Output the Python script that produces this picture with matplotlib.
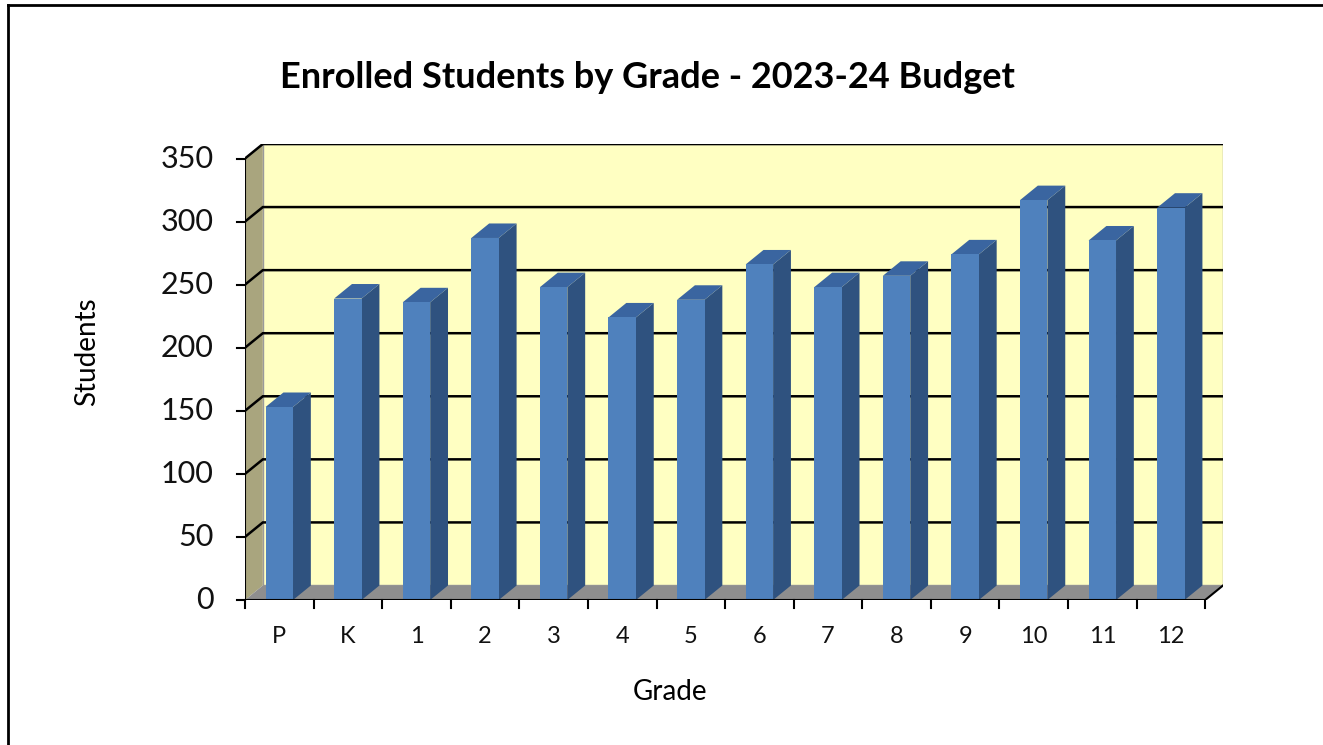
import numpy as np
import matplotlib.pyplot as plt
from matplotlib.patches import Polygon

plt.rcParams['font.family'] = ['Lato', 'DejaVu Sans']

# du lieu doc tu bieu do
grades = ["P", "K", "1", "2", "3", "4", "5", "6", "7", "8", "9", "10", "11", "12"]
students = [153, 239, 236, 287, 248, 224, 238, 266, 248, 257, 274, 317, 285, 311]
y_ticks = [0, 50, 100, 150, 200, 250, 300, 350]

ymax = 350
n = len(grades)
dx = 0.26      # do sau (truc x)
dy = 11.5      # do sau (truc y)
w = 0.40       # be rong cot

fig = plt.figure(figsize=(13.23, 7.45), dpi=100)
ax = fig.add_axes([245 / 1323, 145 / 745, 978 / 1323, 456 / 745])
ax.set_xlim(-0.5, n - 0.5 + dx)
ax.set_ylim(0, ymax + dy)
ax.axis("off")

x0, x1 = -0.5, n - 0.5

# tuong sau, tuong ben, san
ax.add_patch(Polygon([(x0 + dx, dy), (x1 + dx, dy), (x1 + dx, ymax + dy), (x0 + dx, ymax + dy)],
                     closed=True, fc="#FFFFC2", ec="#9A9A9A", lw=1, zorder=1))
ax.add_patch(Polygon([(x0, 0), (x0 + dx, dy), (x0 + dx, ymax + dy), (x0, ymax)],
                     closed=True, fc="#A9A57E", ec="none", zorder=1))
ax.add_patch(Polygon([(x0, 0), (x1, 0), (x1 + dx, dy), (x0 + dx, dy)],
                     closed=True, fc="#8E8E8E", ec="none", zorder=1))

# luoi
for t in y_ticks[1:]:
    ax.plot([x0, x0 + dx, x1 + dx], [t, t + dy, t + dy], color="black", lw=1.8, zorder=2,
            solid_joinstyle="miter")

# cot 3D
for i, v in enumerate(students):
    l, r = i - w / 2, i + w / 2
    ax.add_patch(Polygon([(r, 0), (r + dx, dy), (r + dx, v + dy), (r, v)],
                         closed=True, fc="#2F527F", ec="none", zorder=3))
    ax.add_patch(Polygon([(l, v), (r, v), (r + dx, v + dy), (l + dx, v + dy)],
                         closed=True, fc="#3A65A0", ec="none", zorder=3))
    ax.bar(i, v, width=w, color="#4F81BD", zorder=4)

# truc
ax.plot([x0, x0], [0, ymax], color="black", lw=1.5, zorder=5)
ax.plot([x0, x1, x1 + dx], [0, 0, dy], color="black", lw=1.5, zorder=5)
tick_len_x = 0.12
for t in y_ticks:
    ax.plot([x0 - tick_len_x, x0], [t, t], color="black", lw=1.5, zorder=5, clip_on=False)
    ax.text(x0 - 0.46, t, str(t), ha="right", va="center", fontsize=22, color="#111111")
for b in np.arange(x0, x1 + 0.01, 1.0):
    ax.plot([b, b], [0, -6], color="black", lw=1.5, zorder=5, clip_on=False)
for i, g in enumerate(grades):
    ax.text(i, -29, g, ha="center", va="center", fontsize=17, color="#111111")

fig.text(647 / 1323, 1 - 78 / 745, "Enrolled Students by Grade - 2023-24 Budget",
         ha="center", va="center", fontsize=26, fontweight="bold")
fig.text(670 / 1323, 1 - 692 / 745, "Grade", ha="center", va="center", fontsize=20)
fig.text(87 / 1323, 1 - 352 / 745, "Students", ha="center", va="center", fontsize=20,
         rotation=90)

# khung
fig.add_artist(plt.Line2D([8 / 1323, 8 / 1323], [0, 1 - 5 / 745], color="black", lw=2))
fig.add_artist(plt.Line2D([8 / 1323, 1], [1 - 5 / 745, 1 - 5 / 745], color="black", lw=2))

fig.savefig("out.png", dpi=100, facecolor="white")
